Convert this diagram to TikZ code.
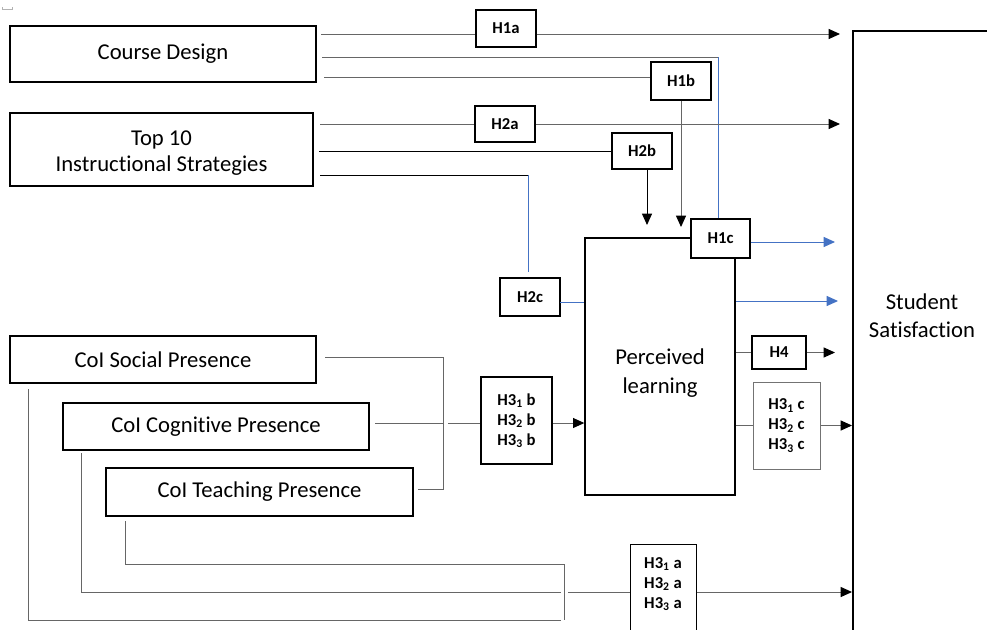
\documentclass[tikz,border=0pt]{standalone}
\usepackage{fontspec}
\setmainfont{Carlito}[Ligatures={NoCommon}]
\usetikzlibrary{arrows.meta}
\definecolor{oblue}{RGB}{68,114,196}
\begin{document}
\begin{tikzpicture}[x=0.75pt,y=-0.75pt,
  box/.style={draw, line width=1pt, inner sep=0pt, font=\fontsize{17}{21}\selectfont, align=center},
  hbox/.style={draw, line width=1pt, fill=white, inner sep=0pt, font=\bfseries\fontsize{12.5}{15}\selectfont, align=center},
  lbl/.style={inner sep=0pt, font=\bfseries\fontsize{12.5}{15}\selectfont, align=center},
  ln/.style={line width=0.75pt, draw=black!60},
  bln/.style={line width=0.75pt, draw=black},
  blu/.style={line width=0.75pt, draw=oblue},
  arr/.style={-{Triangle[length=8.5pt,width=7.5pt]}},
  arrk/.style={-{Triangle[length=8.5pt,width=7.5pt,color=black]}},
  sz/.style 2 args={minimum width=#1*0.75pt, minimum height=#2*0.75pt}
]
\useasboundingbox (0,0) rectangle (987,629);
% tiny mark
\draw[black!30, line width=0.3pt] (2,7) -- (2,9) -- (12,9) -- (12,7);

% main boxes
\node[box, sz={306}{56}] (cd) at (163,54) {Course Design};
\node[box, sz={303}{73}] (t10) at (161.5,149.5) {};
\node[font=\fontsize{17}{19.5}\selectfont, align=center] (t10t) at (161.5,153) {Top 10\\Instructional Strategies};
\node[box, sz={306}{47}] (soc) at (163,359.5) {CoI Social Presence};
\node[box, sz={306}{47}] (cog) at (216,426.5) {CoI Cognitive Presence};
\node[box, sz={307}{48}] (tea) at (259.5,492) {CoI Teaching Presence};
\node[box, sz={150}{257}] (pl) at (660,366.5) {};
\node[font=\fontsize{17}{21.75}\selectfont, align=center] (plt) at (660,373) {Perceived\\learning};
\node[box, line width=1.4pt, sz={400}{700}, anchor=north west] (ss) at (852,30) {};
\node[font=\fontsize{17}{21}\selectfont, align=center] (sst) at (922,316) {Student\\Satisfaction};

% hypothesis boxes
\node[hbox, sz={60}{37}] (h1a) at (506,28.5) {H1a};
\node[hbox, sz={60}{38}] (h1b) at (681,81) {H1b};
\node[hbox, sz={60}{36}] (h2a) at (505,124) {H2a};
\node[hbox, sz={60}{36}] (h2b) at (642,151) {H2b};
\node[hbox, sz={60}{38}] (h2c) at (530,297) {H2c};
\node[hbox, sz={59}{39}] (h1c) at (720.5,238.5) {H1c};
\node[hbox, sz={54}{33}] (h4) at (779,352.5) {H4};
\node[hbox, line width=0.75pt, sz={67}{87}, draw=black!55] (h3c) at (786.5,425.5) {H3\textsubscript{1} c\\H3\textsubscript{2} c\\H3\textsubscript{3} c};
\node[hbox, sz={71}{87}] (h3b) at (516.5,420.5) {H3\textsubscript{1} b\\H3\textsubscript{2} b\\H3\textsubscript{3} b};
\node[hbox, line width=0.75pt, sz={66}{100}] (h3a) at (663,594) {};
\node[lbl] (h3at) at (663,584) {H3\textsubscript{1} a\\H3\textsubscript{2} a\\H3\textsubscript{3} a};

% Course Design connectors
\coordinate (a1) at (321,34);
\coordinate (e1) at (840,34);
\draw[ln] (a1) -- (a1 -| h1a.west);
\draw[ln,arrk] (e1 -| h1a.east) -- (e1);
\coordinate (a2) at (322,57);
\coordinate (k1) at (718,57);
\draw[ln] (a2) -- (k1);
\draw[blu] (k1) -- (k1 |- h1c.north);
\coordinate (a3) at (324,77);
\draw[ln] (a3) -- (a3 -| h1b.west);
\coordinate (e3) at (681,227);
\draw[ln,arrk] (h1b.south) -- (e3);

% Top 10 connectors
\coordinate (b1) at (320,124);
\coordinate (e4) at (840,124);
\draw[ln] (b1) -- (b1 -| h2a.west);
\draw[ln,arrk] (h2a.east) -- (e4);
\coordinate (b2) at (319,151);
\draw[bln] (b2) -- (h2b.west);
\coordinate (b2s) at (647,169);
\coordinate (e5) at (647,225);
\draw[bln,arr] (b2s) -- (e5);
\coordinate (b3) at (320,175);
\coordinate (k2) at (528,175);
\coordinate (k3) at (528,272);
\draw[bln] (b3) -- (k2);
\draw[blu] (k2) -- (k3);
\coordinate (c2) at (560,302);
\draw[blu] (c2) -- (c2 -| pl.west);

% Perceived learning outputs
\coordinate (e6) at (835,242);
\draw[blu,arr] (h1c.east |- e6) -- (e6);
\coordinate (p1) at (736,301);
\coordinate (e7) at (838,301);
\draw[blu,arr] (p1) -- (e7);
\coordinate (e8) at (835,352.5);
\draw[ln] (pl.east |- h4.west) -- (h4.west);
\draw[ln,arrk] (h4.east) -- (e8);
\draw[ln] (pl.east |- h3c.west) -- (h3c.west);
\draw[ln,arrk] (h3c.east) -- (h3c.east -| ss.west);

% CoI to H3b
\coordinate (s1) at (325,357);
\coordinate (j1) at (443,357);
\coordinate (j2) at (443,489);
\coordinate (t1) at (418,489);
\draw[ln] (s1) -- (j1) -- (j2) -- (t1);
\coordinate (g1) at (375,423);
\coordinate (g2) at (444,423);
\coordinate (g3) at (448,423);
\draw[ln] (g1) -- (g2);
\draw[ln] (g3) -- (g3 -| h3b.west);
\draw[ln,arrk] (g3 -| h3b.east) -- (g3 -| pl.west);

% CoI to H3a
\coordinate (u1) at (125,521);
\coordinate (u2) at (565,564);
\draw[ln] (u1) |- (u2);
\coordinate (v1) at (81,453);
\coordinate (v2) at (561,592);
\draw[ln] (v1) |- (v2);
\coordinate (w1) at (28,389);
\coordinate (w2) at (561,620);
\draw[ln] (w1) |- (w2);
\coordinate (m1) at (564,564);
\coordinate (m2) at (564,620);
\draw[ln] (m1) -- (m2);
\coordinate (m3) at (568,592);
\draw[ln] (m3) -- (m3 -| h3a.west);
\draw[ln,arrk] (m3 -| h3a.east) -- (m3 -| ss.west);
\end{tikzpicture}
\end{document}
